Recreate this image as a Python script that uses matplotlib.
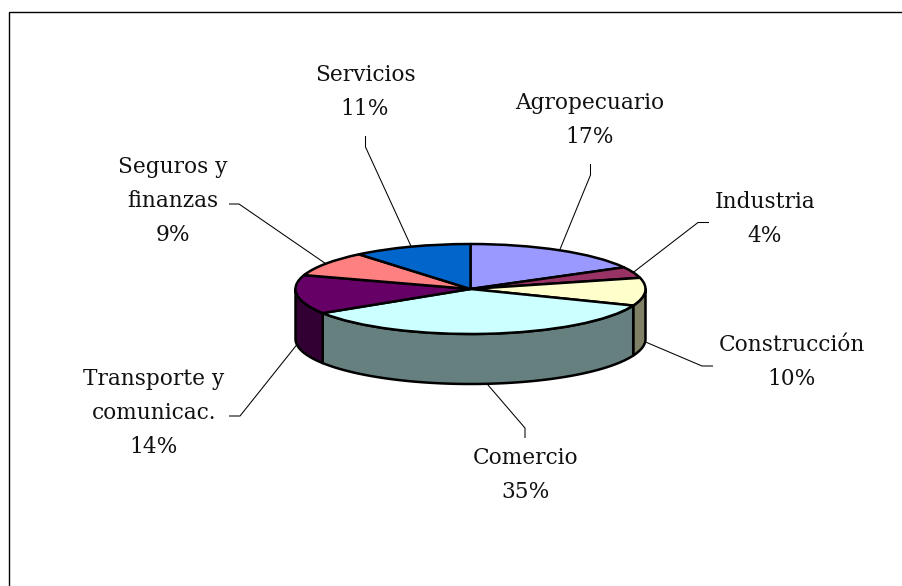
import numpy as np
import matplotlib
matplotlib.use("Agg")
import matplotlib.pyplot as plt
from matplotlib.patches import Polygon

labels = ["Agropecuario", "Industria", "Construcción", "Comercio",
          "Transporte y\ncomunicac.", "Seguros y\nfinanzas", "Servicios"]
shares = [17, 4, 10, 35, 14, 9, 11]
top_colors = ["#9999FF", "#993366", "#FFFFCC", "#CCFFFF", "#660066", "#FF8080", "#0066CC"]
wall_colors = ["#666680", "#662244", "#808066", "#668080", "#330033", "#804040", "#003366"]

W, H = 902, 586
CX, CY, RX, RY, DEPTH = 470.5, 289, 175, 45, 50
LW = 1.8
FONT = 15.6

plt.rcParams["font.family"] = ["DejaVu Serif"]
fig = plt.figure(figsize=(W / 100, H / 100), dpi=100, facecolor="white")

# overlay in pixel coordinates: frame, leaders, labels
over = fig.add_axes([0, 0, 1, 1], zorder=3)
over.set_xlim(0, W)
over.set_ylim(H, 0)
over.axis("off")
over.patch.set_alpha(0)

# pie axes: one data unit is the radius of the ellipse on each axis
pie_ax = fig.add_axes([(CX - RX) / W, 1 - (CY + RY) / H, 2 * RX / W, 2 * RY / H], zorder=2)
wedges, _ = pie_ax.pie(shares, colors=top_colors, startangle=90, counterclock=False,
                       radius=1, wedgeprops=dict(edgecolor="black", linewidth=LW))
pie_ax.set_aspect("auto")
pie_ax.set_xlim(-1, 1)
pie_ax.set_ylim(-1, 1)
for w in wedges:
    w.set_clip_on(False)
    w.set_zorder(5)
    w.set_joinstyle("round")

# side walls of the disc, from the same shares
fractions = np.array(shares, dtype=float) / sum(shares)
ends = np.cumsum(fractions) * 360
starts = ends - fractions * 360
d = DEPTH / RY
for a, b, col in zip(starts, ends, wall_colors):
    lo, hi = max(a, 90), min(b, 270)
    if hi <= lo:
        continue
    t = np.radians(np.linspace(lo, hi, 80))
    x, y = np.sin(t), np.cos(t)
    pts = np.r_[np.c_[x, y], np.c_[x[::-1], y[::-1] - d]]
    pie_ax.add_patch(Polygon(pts, closed=True, facecolor=col, edgecolor="black",
                             linewidth=LW, clip_on=False, zorder=2, joinstyle="round"))

# labels: (centre x, y of first line, leader knee points from label side)
label_layout = [
    (590, 103, [(590.5, 164), (590.5, 175)]),
    (765, 202, [(709, 222.5), (698, 222.5)]),
    (792, 345, [(713, 366), (702, 366)]),
    (526, 458, [(525, 438), (525, 428)]),
    (154, 379, [(229, 416), (240, 416)]),
    (173, 167, [(229, 204), (239, 204)]),
    (365, 75, [(365.5, 136), (365.5, 147)]),
]
LINE = 34.2
mids = (starts + ends) / 2
for name, share, mid, (tx, ty, knee) in zip(labels, shares, mids, label_layout):
    txt_lines = name.split("\n") + [f"{share}%"]
    for i, line in enumerate(txt_lines):
        over.text(tx, ty + i * LINE, line, ha="center", va="center",
                  fontsize=FONT, color="#111111")
    ax_x = CX + RX * np.sin(np.radians(mid))
    ax_y = CY - RY * np.cos(np.radians(mid))
    if np.cos(np.radians(mid)) < 0:
        ax_y += DEPTH
    xs = [p[0] for p in knee] + [ax_x]
    ys = [p[1] for p in knee] + [ax_y]
    over.plot(xs, ys, color="black", lw=0.75, solid_capstyle="butt")

# open frame: top and left only
over.plot([8.5, 8.5, W], [H, 11.5, 11.5], color="black", lw=1.0, solid_joinstyle="miter")

fig.savefig("out.png", dpi=100, facecolor="white")
